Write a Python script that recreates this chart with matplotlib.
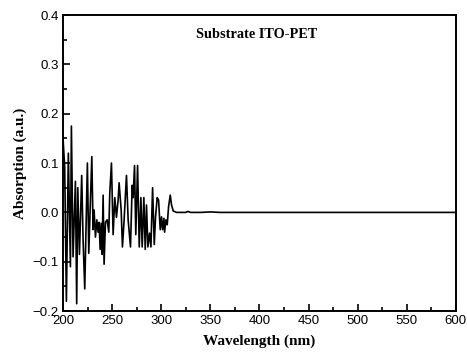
import matplotlib
matplotlib.use('Agg')
import matplotlib.pyplot as plt
from matplotlib.ticker import MultipleLocator

# noisy part (nm, a.u.)
wl_noise = [200.0, 201.7, 203.4, 205.4, 207.5, 208.5, 210.2, 212.6, 213.9, 215.0,
            216.7, 219.0, 220.4, 222.1, 224.8, 226.2, 229.3, 230.6, 231.6, 233.0,
            234.4, 235.7, 236.7, 237.8, 238.8, 239.8, 240.8, 241.8, 243.2, 244.9,
            246.6, 247.6, 249.3, 251.0, 252.7, 254.4, 256.1, 257.1, 259.2, 260.5,
            262.2, 264.6, 266.3, 268.7, 270.4, 271.4, 272.8, 274.1, 275.9, 277.6,
            279.3, 280.6, 282.3, 283.7, 285.0, 286.4, 288.1, 289.5, 291.2, 292.9,
            294.2, 295.9, 297.3, 299.0, 300.3, 301.4, 302.7, 303.4, 304.8, 306.1,
            307.5, 309.2, 310.5, 312.2, 315.6]
abs_noise = [0.150, 0.090, -0.180, 0.120, -0.110, 0.175, -0.090, 0.063, -0.185, 0.050,
             -0.085, 0.075, -0.055, -0.155, 0.100, -0.083, 0.113, -0.035, 0.005, -0.050,
             -0.015, -0.040, -0.020, -0.075, -0.022, -0.085, 0.035, -0.105, -0.020, -0.015,
             -0.040, 0.040, 0.100, -0.045, 0.030, -0.010, 0.025, 0.060, 0.005, -0.070,
             -0.015, 0.075, -0.015, -0.070, 0.055, 0.030, 0.095, -0.045, 0.095, -0.070,
             0.030, -0.070, 0.030, -0.075, 0.015, -0.070, -0.042, -0.070, 0.050, -0.065,
             -0.009, 0.030, 0.025, -0.035, -0.009, -0.035, -0.012, -0.040, -0.015, -0.025,
             0.012, 0.035, 0.015, 0.003, 0.000]

# flat tail
wl_flat = [320, 325, 327, 330, 340, 350, 360, 400, 450, 500, 550, 600]
abs_flat = [0.000, 0.000, 0.002, 0.000, 0.000, 0.001, 0.000, 0.000, 0.000, 0.000, 0.000, 0.000]

wavelength = wl_noise + wl_flat
absorption = abs_noise + abs_flat

plt.rcParams['font.family'] = ['Liberation Sans', 'DejaVu Sans']

fig = plt.figure(figsize=(4.67, 3.58), dpi=100)
ax = fig.add_axes([0.135, 0.131, 0.841, 0.827])
ax.plot(wavelength, absorption, color='black', linewidth=1.2)

ax.set_xlim(200, 600)
ax.set_ylim(-0.2, 0.4)
ax.xaxis.set_major_locator(MultipleLocator(50))
ax.xaxis.set_minor_locator(MultipleLocator(25))
ax.yaxis.set_major_locator(MultipleLocator(0.1))
ax.yaxis.set_minor_locator(MultipleLocator(0.05))
ax.tick_params(which='both', direction='in', top=False, right=False, labelsize=9.5, width=1.2)
ax.tick_params(which='major', length=5, pad=3)
ax.tick_params(which='minor', length=3)
for s in ax.spines.values():
    s.set_linewidth(1.4)

serif = {'family': 'Liberation Serif', 'weight': 'bold'}
ax.set_xlabel('Wavelength (nm)', fontdict=serif, fontsize=11, labelpad=5)
ax.set_ylabel('Absorption (a.u.)', fontdict=serif, fontsize=11, labelpad=4)
ax.text(397, 0.361, 'Substrate ITO-PET', fontdict=serif, fontsize=10.3, ha='center', va='center')

fig.savefig('out.png', dpi=100)
